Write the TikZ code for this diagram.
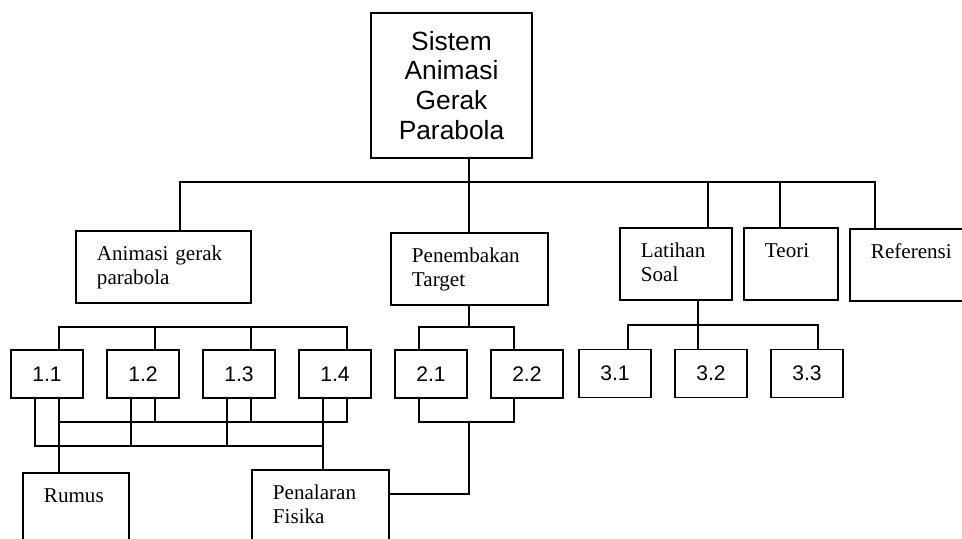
\documentclass[tikz,border=0pt]{standalone}
\usepackage{fontspec}
\newfontfamily\tnr{Liberation Serif}
\newfontfamily\arl{Liberation Sans}
\usetikzlibrary{positioning}

\begin{document}
\begin{tikzpicture}[x=0.02cm,y=-0.02cm,line width=1.1pt,
 b/.style={draw,anchor=north west,align=left,text width=#1,inner xsep=.42cm,inner ysep=0pt,
   text height=.6cm,text depth=.84cm,font=\tnr\fontsize{12}{13.6}\selectfont},
 n/.style={draw,minimum width=1.44cm,minimum height=.96cm,inner sep=0pt,outer sep=0pt,font=\arl\fontsize{12}{14}\selectfont}]
\clip (0,0) rectangle (962,538);
\node[draw,minimum width=3.22cm,minimum height=2.9cm,align=center,font=\arl\fontsize{15}{17}\selectfont] (sis) at (451.5,85.5) {Sistem\\Animasi\\Gerak\\Parabola};
\node[b=2.66cm] (anim) at (75,230) {Animasi gerak\\parabola};
\node[b=2.3cm] (pen) at (390,232) {Penembakan\\Target};
\node[b=1.4cm] (lat) at (619,227) {Latihan\\Soal};
\node[b=1.04cm] (teori) at (743,227) {Teori};
\node[b=2cm] (ref) at (849,228) {Referensi};
\node[b=1.28cm,text depth=1.4cm] (rumus) at (22,472) {Rumus};
\node[b=1.9cm,text depth=1.4cm] (penal) at (251,469) {Penalaran\\Fisika};
\node[n] (n11) at (47,374) {1.1};
\node[n,right=.48cm of n11] (n12) {1.2};
\node[n,right=.48cm of n12] (n13) {1.3};
\node[n,right=.48cm of n13] (n14) {1.4};
\node[n,right=.48cm of n14] (n21) {2.1};
\node[n,right=.48cm of n21] (n22) {2.2};
\node[n] (n31) at (615,373.5) {3.1};
\node[n,right=.48cm of n31] (n32) {3.2};
\node[n,right=.48cm of n32] (n33) {3.3};
% top bar
\coordinate (barT) at (0,182);
\coordinate (ka) at ([xshift=.33cm]anim.north);
\coordinate (kl) at ([xshift=.64cm]lat.north);
\coordinate (kt) at ([xshift=-.22cm]teori.north);
\coordinate (kr) at ([xshift=.52cm]ref.north west);
\draw (ka) |- (barT -| kr) -- (kr);
\draw (sis.south -| pen.north) -- (pen.north);
\draw (kl) -- (kl |- barT);
\draw (kt) -- (kt |- barT);
% group 1
\coordinate (busA) at (0,327);
\coordinate (rowA) at (0,422);
\coordinate (rowB) at (0,446);
\foreach \k in {1,...,4}{
  \coordinate (t\k) at ([xshift=.24cm]n1\k.north);
  \coordinate (r\k) at ([xshift=.24cm]n1\k.south);
  \coordinate (l\k) at ([xshift=-.24cm]n1\k.south);
}
\draw (t1) |- (busA -| t4) -- (t4);
\draw (t2) -- (t2 |- busA);\draw (t3) -- (t3 |- busA);
\draw (r1 |- rowA) -| (r4);
\draw (r1) -- (rumus.north -| r1);
\draw (r2) -- (r2 |- rowA);\draw (r3) -- (r3 |- rowA);
\draw (l1) |- (rowB -| l4);
\draw (l2) -- (l2 |- rowB);\draw (l3) -- (l3 |- rowB);
\draw (l4) -- (penal.north -| l4);
% group 2
\coordinate (u1) at ([xshift=-.24cm]n21.north);
\coordinate (u2) at ([xshift=-.26cm]n22.north);
\coordinate (v1) at ([xshift=-.24cm]n21.south);
\coordinate (v2) at ([xshift=-.26cm]n22.south);
\draw (pen.south) -- (pen.south |- busA);
\draw (u1) |- (busA -| u2) -- (u2);
\draw (v1) |- (rowA -| v2) -- (v2);
\draw (pen.south |- rowA) |- ([yshift=.52cm]penal.east);
% group 3
\coordinate (busC) at (0,325);
\coordinate (w1) at ([xshift=.26cm]n31.north);
\coordinate (w2) at ([xshift=-.26cm]n32.north);
\coordinate (w3) at ([xshift=.22cm]n33.north);
\draw (w1) |- (busC -| w3) -- (w3);
\draw (w2) -- (w2 |- lat.south);
\end{tikzpicture}
\end{document}
